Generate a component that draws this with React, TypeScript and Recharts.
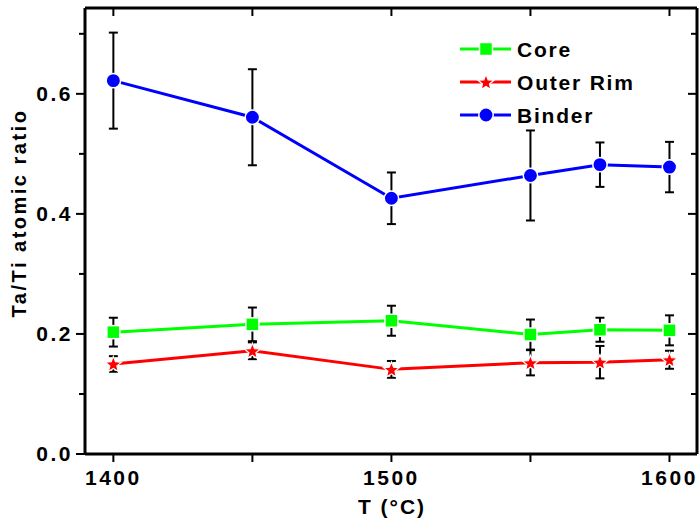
import React from 'react';
import { ComposedChart, Line, XAxis, YAxis, ErrorBar, Legend } from 'recharts';

const temps = [1400, 1450, 1500, 1550, 1575, 1600];
const core = [0.203, 0.216, 0.222, 0.199, 0.207, 0.206];
const coreErr = [0.024, 0.028, 0.025, 0.025, 0.02, 0.025];
const rim = [0.15, 0.172, 0.141, 0.152, 0.153, 0.157];
const rimErr = [0.013, 0.014, 0.014, 0.021, 0.027, 0.015];
const binder = [0.622, 0.561, 0.426, 0.464, 0.482, 0.478];
const binderErr = [0.08, 0.08, 0.043, 0.075, 0.037, 0.042];

const xTicks = [1400, 1450, 1500, 1550, 1600];
const xTickLabels = ['1400', '', '1500', '', '1600'];
const yTicks = [0, 0.1, 0.2, 0.3, 0.4, 0.5, 0.6, 0.7];
const yTickLabels = ['0.0', '', '0.2', '', '0.4', '', '0.6', ''];
const seriesNames = ['Core', 'Outer Rim', 'Binder'];
const seriesColors = ['#00ff00', '#ff0000', '#0000ff'];

const X_DOMAIN: [number, number] = [1389.8, 1609.9];
const Y_DOMAIN: [number, number] = [0, 0.743];

const data = temps.map((t, i) => ({
  t,
  core: core[i],
  coreErr: coreErr[i],
  rim: rim[i],
  rimErr: rimErr[i],
  binder: binder[i],
  binderErr: binderErr[i],
}));

const FONT = '"Liberation Sans", Arial, Helvetica, sans-serif';

function starPath(cx: number, cy: number, R: number, r: number) {
  let d = '';
  for (let i = 0; i < 10; i++) {
    const a = (-90 + i * 36) * (Math.PI / 180);
    const rad = i % 2 === 0 ? R : r;
    const x = cx + rad * Math.cos(a);
    const y = cy + rad * Math.sin(a);
    d += (i === 0 ? 'M' : 'L') + x.toFixed(2) + ',' + y.toFixed(2);
  }
  return d + 'Z';
}

const SquareMark = ({ cx, cy }: { cx: number; cy: number }) => (
  <rect x={cx - 6.5} y={cy - 6.5} width={13} height={13} fill="#00ff00" stroke="#fff" strokeWidth={1.5} />
);
const StarMark = ({ cx, cy }: { cx: number; cy: number }) => (
  <path d={starPath(cx, cy + 0.8, 8.4, 3.7)} fill="#ff0000" stroke="#fff" strokeWidth={1.2} />
);
const CircleMark = ({ cx, cy }: { cx: number; cy: number }) => (
  <circle cx={cx} cy={cy} r={7.2} fill="#0000ff" stroke="#fff" strokeWidth={1.5} />
);

const coreDot = (p: any) => <SquareMark key={'c' + p.index} cx={p.cx} cy={p.cy} />;
const rimDot = (p: any) => <StarMark key={'r' + p.index} cx={p.cx} cy={p.cy} />;
const binderDot = (p: any) => <CircleMark key={'b' + p.index} cx={p.cx} cy={p.cy} />;

const XTick = (p: any) => {
  const idx = xTicks.indexOf(p.payload.value);
  const label = idx >= 0 ? xTickLabels[idx] : '';
  if (!label) return <g />;
  return (
    <text x={p.x} y={p.y} dy="0.71em" textAnchor="middle" fontSize={21} fontWeight="bold" fontFamily={FONT} letterSpacing={2.5} fill="#000">
      {label}
    </text>
  );
};

// left axis: tickSize 0 / tickMargin 0, so p.x is the axis line position
const YTickLeft = (p: any) => {
  const idx = yTicks.indexOf(p.payload.value);
  const label = idx >= 0 ? yTickLabels[idx] : '';
  const len = label ? 9 : 6;
  return (
    <g>
      <line x1={p.x - len} y1={p.y} x2={p.x} y2={p.y} stroke="#000" strokeWidth={2} />
      {label && (
        <text x={p.x - 12} y={p.y} dy="0.355em" textAnchor="end" fontSize={21} fontWeight="bold" fontFamily={FONT} letterSpacing={2.5} fill="#000">
          {label}
        </text>
      )}
    </g>
  );
};

// right axis (mirrored): ticks point inward, to the left
const YTickRight = (p: any) => {
  const idx = yTicks.indexOf(p.payload.value);
  const major = idx >= 0 && yTickLabels[idx] !== '';
  const len = major ? 9 : 6;
  return <line x1={p.x - len} y1={p.y} x2={p.x} y2={p.y} stroke="#000" strokeWidth={2} />;
};
const NoTick = () => <g />;

const YLabel = () => (
  <text transform="translate(26,213) rotate(-90)" textAnchor="middle" fontSize={20} fontWeight="bold" fontFamily={FONT} letterSpacing={2.5} fill="#000">
    Ta/Ti atomic ratio
  </text>
);
const XLabel = () => (
  <text x={392} y={514} textAnchor="middle" fontSize={21} fontWeight="bold" fontFamily={FONT} letterSpacing={2} fill="#000">
    T (°C)
  </text>
);

const LegendContent = () => {
  const rows = [0, 1, 2];
  return (
    <svg width={220} height={110} style={{ display: 'block' }}>
      {rows.map((i) => {
        const y = 19 + i * 33;
        return (
          <g key={i}>
            <line x1={5} y1={y} x2={56} y2={y} stroke={seriesColors[i]} strokeWidth={3} />
            {i === 0 && <SquareMark cx={31} cy={y} />}
            {i === 1 && <StarMark cx={31} cy={y} />}
            {i === 2 && <CircleMark cx={31} cy={y} />}
            <text x={62} y={y + 7.5} fontSize={21} fontWeight="bold" fontFamily={FONT} letterSpacing={1.8} fill="#000">
              {seriesNames[i]}
            </text>
          </g>
        );
      })}
    </svg>
  );
};

const axisLineStyle = { stroke: '#000', strokeWidth: 3 };
const tickLineStyle = { stroke: '#000', strokeWidth: 2 };

export default function App() {
  return (
    <div style={{ position: 'absolute', left: 0, top: 0, width: 700, height: 525, background: '#fff' }}>
      <ComposedChart width={700} height={525} data={data} margin={{ top: 8, right: 3, bottom: 0, left: 0 }}>
        <XAxis
          xAxisId="b"
          dataKey="t"
          type="number"
          domain={X_DOMAIN}
          ticks={xTicks}
          interval={0}
          allowDataOverflow
          height={71}
          tickSize={8}
          tickMargin={8}
          axisLine={axisLineStyle}
          tickLine={tickLineStyle}
          tick={<XTick />}
          label={<XLabel />}
        />
        <XAxis
          xAxisId="t"
          dataKey="t"
          type="number"
          orientation="top"
          mirror
          domain={X_DOMAIN}
          ticks={xTicks}
          interval={0}
          allowDataOverflow
          height={1}
          tickSize={8}
          axisLine={axisLineStyle}
          tickLine={tickLineStyle}
          tick={<NoTick />}
        />
        <YAxis
          yAxisId="l"
          type="number"
          domain={Y_DOMAIN}
          ticks={yTicks}
          interval={0}
          allowDataOverflow
          width={85}
          tickSize={0}
          tickMargin={0}
          axisLine={axisLineStyle}
          tickLine={false}
          tick={<YTickLeft />}
          label={<YLabel />}
        />
        <YAxis
          yAxisId="r"
          type="number"
          orientation="right"
          mirror
          domain={Y_DOMAIN}
          ticks={yTicks}
          interval={0}
          allowDataOverflow
          width={1}
          tickSize={0}
          tickMargin={0}
          axisLine={axisLineStyle}
          tickLine={false}
          tick={<YTickRight />}
        />
        <Legend
          content={<LegendContent />}
          layout="vertical"
          verticalAlign="middle"
          align="center"
          wrapperStyle={{ left: 455, top: 30, width: 220, height: 110 }}
        />
        <Line xAxisId="t" yAxisId="r" dataKey="core" stroke="none" strokeOpacity={0} dot={false} activeDot={false} legendType="none" isAnimationActive={false} />
        <Line xAxisId="b" yAxisId="l" name="Core" dataKey="core" type="linear" stroke="#00ff00" strokeWidth={3} dot={coreDot} activeDot={false} isAnimationActive={false}>
          <ErrorBar dataKey="coreErr" direction="y" width={4.5} stroke="#000" strokeWidth={2} />
        </Line>
        <Line xAxisId="b" yAxisId="l" name="Outer Rim" dataKey="rim" type="linear" stroke="#ff0000" strokeWidth={3} dot={rimDot} activeDot={false} isAnimationActive={false}>
          <ErrorBar dataKey="rimErr" direction="y" width={4.5} stroke="#000" strokeWidth={2} />
        </Line>
        <Line xAxisId="b" yAxisId="l" name="Binder" dataKey="binder" type="linear" stroke="#0000ff" strokeWidth={3} dot={binderDot} activeDot={false} isAnimationActive={false}>
          <ErrorBar dataKey="binderErr" direction="y" width={4.5} stroke="#000" strokeWidth={2} />
        </Line>
      </ComposedChart>
    </div>
  );
}
